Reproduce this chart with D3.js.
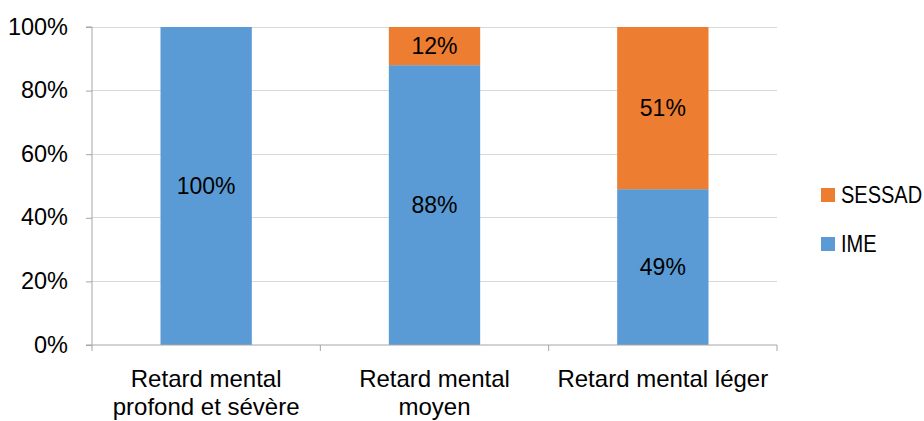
<!DOCTYPE html>
<html><head><meta charset="utf-8">
<script src="https://cdn.jsdelivr.net/npm/d3@7"></script>
<style>body{margin:0;background:#fff}svg{display:block}</style>
</head><body>
<svg id="c" width="924" height="421"></svg>
<script>
const categories = [["Retard mental","profond et sévère"],["Retard mental","moyen"],["Retard mental léger"]];
const seriesNames = ["IME","SESSAD"];
const ime = [1.00, 0.88, 0.49];
const sessad = [0.00, 0.12, 0.51];
const yTicks = [0,0.2,0.4,0.6,0.8,1.0];
const colors = {IME:"#5B9BD5", SESSAD:"#ED7D31"};

const svg = d3.select("#c");
const font = "'Liberation Sans', Arial, sans-serif";
const m = {l:92, r:777, t:27, b:345};
const idx = categories.map((d,i)=>i);
const x = d3.scaleBand().domain(idx).range([m.l, m.r]).paddingInner(0.6).paddingOuter(0.3);
const xb = d3.scaleBand().domain(idx).range([m.l, m.r]);
const y = d3.scaleLinear().domain([0,1]).range([m.b, m.t]);

// gridlines
svg.append("g").selectAll("line").data(yTicks.slice(1)).join("line")
  .attr("x1", m.l).attr("x2", m.r).attr("y1", d=>y(d)).attr("y2", d=>y(d))
  .attr("stroke","#D9D9D9").attr("stroke-width",1).attr("shape-rendering","crispEdges");

// stacks
const rows = idx.map(i=>({i, IME: ime[i], SESSAD: sessad[i]}));
const stack = d3.stack().keys(seriesNames)(rows);
const g = svg.append("g");
stack.forEach(s=>{
  g.selectAll(null).data(s).join("rect")
    .attr("x", d=>x(d.data.i)).attr("width", x.bandwidth())
    .attr("y", d=>y(d[1])).attr("height", d=>y(d[0])-y(d[1]))
    .attr("fill", colors[s.key]);
  g.selectAll(null).data(s.filter(d=>d[1]-d[0]>0)).join("text")
    .attr("x", d=>x(d.data.i)+x.bandwidth()/2)
    .attr("y", d=>(y(d[0])+y(d[1]))/2)
    .attr("dy","0.36em").attr("text-anchor","middle")
    .attr("font-family",font).attr("font-size",23).attr("fill","#000")
    .text(d=>Math.round((d[1]-d[0])*100)+"%");
});

// y axis
const ya = svg.append("g").attr("transform",`translate(${m.l},0)`)
  .call(d3.axisLeft(y).tickValues(yTicks).tickFormat(d3.format(".0%")).tickSize(6).tickPadding(18));
ya.select(".domain").attr("stroke","#A6A6A6").attr("d",`M-6,${m.t}H0V${m.b}H-6`);
ya.selectAll(".tick line").attr("stroke","#A6A6A6");
ya.selectAll("text").attr("font-family",font).attr("font-size",23.5).attr("fill","#000").attr("dy","0.3em");

// x axis
const xa = svg.append("g").attr("transform",`translate(0,${m.b})`);
xa.append("line").attr("x1",m.l).attr("x2",m.r).attr("stroke","#A6A6A6");
const bounds = idx.map(i=>xb(i)).concat([m.r]);
xa.selectAll(null).data(bounds).join("line")
  .attr("x1",d=>d).attr("x2",d=>d).attr("y1",0).attr("y2",6).attr("stroke","#A6A6A6");
const lbl = xa.selectAll(null).data(idx).join("text")
  .attr("x", i=>xb(i)+xb.bandwidth()/2).attr("y", 42)
  .attr("text-anchor","middle").attr("font-family",font).attr("font-size",24).attr("fill","#000");
lbl.selectAll("tspan").data(i=>categories[i].map(t=>({t,x:xb(i)+xb.bandwidth()/2}))).join("tspan")
  .attr("x", d=>d.x).attr("dy",(d,k)=>k?28:0).text(d=>d.t);

// legend
const leg = svg.append("g");
const legItems = ["SESSAD","IME"];
leg.selectAll(null).data(legItems).join("rect")
  .attr("x",821).attr("y",(d,k)=>188+k*49).attr("width",14).attr("height",14)
  .attr("fill",d=>colors[d]);
leg.selectAll(null).data(legItems).join("text")
  .attr("transform",(d,k)=>`translate(841,${195+k*49}) scale(0.87,1)`).attr("dy","0.36em")
  .attr("font-family",font).attr("font-size",23).attr("fill","#000").text(d=>d);
</script>
</body></html>
